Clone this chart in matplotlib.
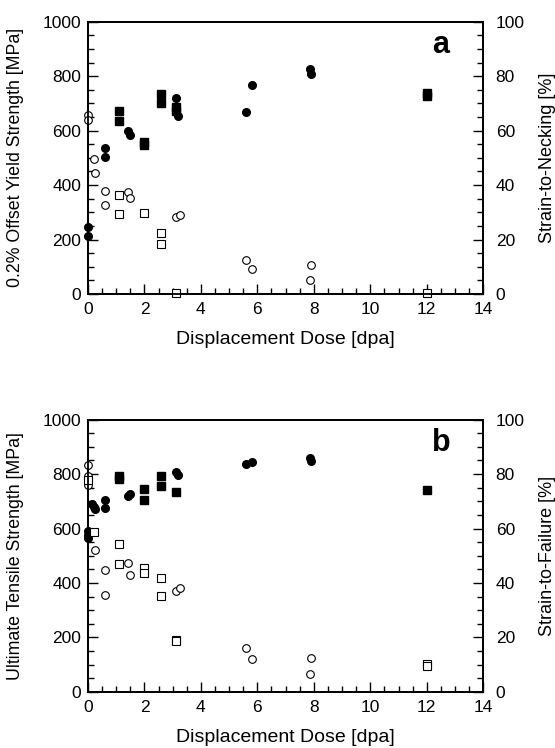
import matplotlib
matplotlib.use("Agg")
import matplotlib.pyplot as plt
from matplotlib.ticker import MultipleLocator

plt.rcParams['font.family'] = ['Liberation Sans', 'DejaVu Sans']

# ---- panel a: yield strength (filled, left) / strain-to-necking (open, right)
ys_circ_x = [0, 0, 0.6, 0.6, 1.4, 1.5, 3.1, 3.2, 5.6, 5.8, 7.85, 7.9]
ys_circ_y = [245, 212, 537, 503, 598, 585, 718, 654, 670, 766, 828, 808]
ys_sq_x = [1.1, 1.1, 2.0, 2.0, 2.6, 2.6, 3.1, 3.1, 12, 12]
ys_sq_y = [673, 636, 557, 546, 734, 700, 687, 673, 737, 728]
neck_circ_x = [0, 0, 0.2, 0.25, 0.6, 0.6, 1.4, 1.5, 3.1, 3.25, 5.6, 5.8, 7.9, 7.85]
neck_circ_y = [65.6, 64.0, 49.5, 44.6, 37.9, 32.8, 37.4, 35.1, 28.1, 29.0, 12.4, 9.2, 10.6, 5.2]
neck_sq_x = [1.1, 1.1, 2.0, 2.6, 2.6, 3.1, 12]
neck_sq_y = [36.2, 29.5, 29.8, 22.4, 18.2, 0.4, 0.3]

# ---- panel b: ultimate tensile strength (filled, left) / strain-to-failure (open, right)
uts_circ_x = [0, 0, 0, 0.15, 0.2, 0.25, 0.6, 0.6, 1.4, 1.5, 3.1, 3.2, 5.6, 5.8, 7.85, 7.9]
uts_circ_y = [590, 577, 565, 690, 680, 670, 703, 677, 719, 727, 806, 798, 837, 845, 858, 848]
uts_sq_x = [1.1, 1.1, 2.0, 2.0, 2.6, 2.6, 3.1, 12]
uts_sq_y = [792, 781, 744, 705, 792, 758, 734, 740]
fail_circ_x = [0, 0, 0, 0.25, 0.6, 0.6, 1.4, 1.5, 3.1, 3.25, 5.6, 5.8, 7.9, 7.85]
fail_circ_y = [83.3, 79.2, 76.0, 52.0, 44.8, 35.5, 47.2, 42.8, 36.9, 38.3, 16.1, 11.9, 12.5, 6.6]
fail_sq_x = [0, 0.2, 1.1, 1.1, 2.0, 2.0, 2.6, 2.6, 3.1, 3.1, 12, 12]
fail_sq_y = [77.7, 58.9, 54.2, 46.8, 45.5, 43.8, 41.8, 35.2, 19.2, 18.6, 10.2, 9.6]

panels = [
    dict(rect=[0.1586, 0.607, 0.712, 0.364], letter='a',
         left_label='0.2% Offset Yield Strength [MPa]', right_label='Strain-to-Necking [%]',
         fc=(ys_circ_x, ys_circ_y), fs=(ys_sq_x, ys_sq_y),
         oc=(neck_circ_x, neck_circ_y), os=(neck_sq_x, neck_sq_y)),
    dict(rect=[0.1586, 0.075, 0.712, 0.364], letter='b',
         left_label='Ultimate Tensile Strength [MPa]', right_label='Strain-to-Failure [%]',
         fc=(uts_circ_x, uts_circ_y), fs=(uts_sq_x, uts_sq_y),
         oc=(fail_circ_x, fail_circ_y), os=(fail_sq_x, fail_sq_y)),
]

fig = plt.figure(figsize=(5.55, 7.48), dpi=100)

for p in panels:
    ax = fig.add_axes(p['rect'])
    ax2 = ax.twinx()

    ax.plot(*p['fc'], 'o', color='black', markersize=5.5, clip_on=False, zorder=3)
    ax.plot(*p['fs'], 's', color='black', markersize=5.2, clip_on=False, zorder=3)
    ax2.plot(*p['oc'], 'o', mfc='white', mec='black', mew=0.8, markersize=5.5, clip_on=False)
    ax2.plot(*p['os'], 's', mfc='white', mec='black', mew=0.8, markersize=5.2, clip_on=False)

    ax.set_xlim(0, 14)
    ax.set_ylim(0, 1000)
    ax2.set_ylim(0, 100)

    ax.xaxis.set_major_locator(MultipleLocator(2))
    ax.xaxis.set_minor_locator(MultipleLocator(0.5))
    ax.yaxis.set_major_locator(MultipleLocator(200))
    ax.yaxis.set_minor_locator(MultipleLocator(50))
    ax2.yaxis.set_major_locator(MultipleLocator(20))
    ax2.yaxis.set_minor_locator(MultipleLocator(5))

    ax.tick_params(axis='both', which='both', direction='in', top=False, right=False,
                   labelsize=12.5, width=1)
    ax.tick_params(axis='x', which='major', pad=6)
    ax.tick_params(axis='y', which='major', pad=5)
    ax.tick_params(which='major', length=7)
    ax.tick_params(which='minor', length=4)
    ax2.tick_params(axis='y', which='both', direction='in', labelsize=12.5, width=1)
    ax2.tick_params(which='major', length=7, pad=9)
    ax2.tick_params(which='minor', length=4)

    for a in (ax, ax2):
        for s in a.spines.values():
            s.set_linewidth(1.3)

    ax.set_xlabel('Displacement Dose [dpa]', fontsize=14, labelpad=10)
    ax.set_ylabel(p['left_label'], fontsize=12.8, labelpad=13)
    ax2.set_ylabel(p['right_label'], fontsize=13, labelpad=10)

    ax.text(12.5, 915, p['letter'], fontsize=22, fontweight='bold', ha='center', va='center')

fig.savefig('out.png', dpi=100)
